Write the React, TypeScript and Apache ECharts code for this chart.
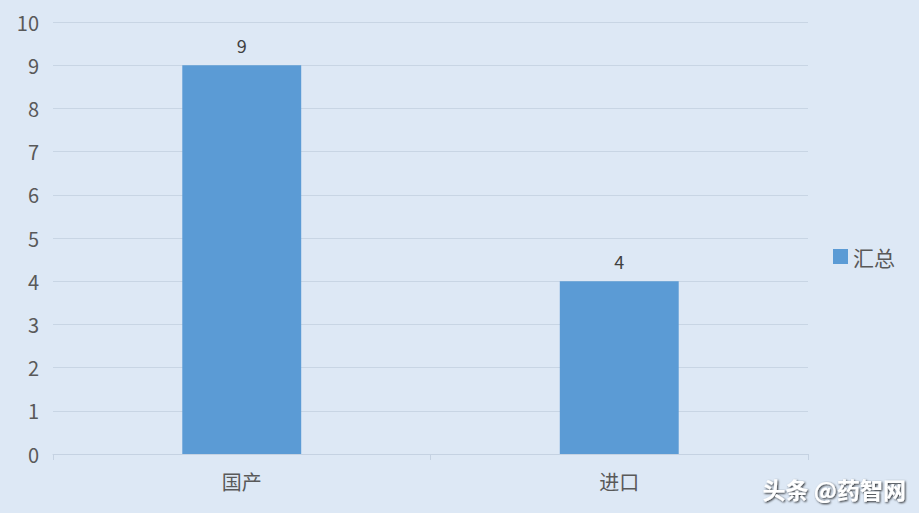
import React, { useEffect, useRef } from 'react';
import * as echarts from 'echarts';

const categories = ['国产', '进口'];
const totals = [9, 4];
const seriesName = '汇总';
const watermark = '头条 @药智网';

const FONT = '"Microsoft YaHei", "Noto Sans CJK SC", "Noto Sans", sans-serif';

export default function App() {
  const chartRef = useRef<HTMLDivElement>(null);

  useEffect(() => {
    if (!chartRef.current) return;
    const chart = echarts.init(chartRef.current, undefined, { renderer: 'svg' });

    const option: echarts.EChartsOption = {
      animation: false,
      backgroundColor: '#dde8f5',
      textStyle: { fontFamily: FONT },
      grid: { left: 53, right: 111, top: 22, bottom: 59 },
      legend: {
        orient: 'vertical',
        left: 828,
        top: 241,
        itemWidth: 15,
        itemHeight: 15,
        itemGap: 8,
        icon: 'rect',
        textStyle: { fontSize: 21, color: '#595959', fontFamily: FONT },
        data: [seriesName],
      },
      xAxis: {
        type: 'category',
        data: categories,
        axisLine: { lineStyle: { color: '#c5d2e2' } },
        axisTick: { show: true, length: 6, lineStyle: { color: '#c5d2e2' } },
        axisLabel: { fontSize: 20, color: '#595959', margin: 17, fontFamily: FONT },
      },
      yAxis: {
        type: 'value',
        min: 0,
        max: 10,
        interval: 1,
        axisLine: { show: false },
        axisTick: { show: false },
        axisLabel: { fontSize: 20, color: '#595959', margin: 14, fontFamily: FONT },
        splitLine: { lineStyle: { color: '#c8d5e4', width: 1 } },
      },
      series: [
        {
          name: seriesName,
          type: 'bar',
          data: totals,
          barWidth: '31.5%',
          itemStyle: { color: '#5b9bd5' },
          label: {
            show: true,
            position: 'top',
            distance: 11,
            fontSize: 18,
            color: '#404040',
            fontFamily: FONT,
          },
        },
      ],
      graphic: [
        {
          type: 'text',
          right: 13,
          bottom: 13,
          style: {
            text: watermark,
            fontSize: 23,
            fontWeight: 'bold',
            fontFamily: FONT,
            fill: '#ffffff',
            textShadowColor: 'rgba(0,0,0,0.85)',
            textShadowBlur: 2,
            textShadowOffsetX: 1,
            textShadowOffsetY: 1,
          },
        },
      ],
    };

    chart.setOption(option);
    return () => chart.dispose();
  }, []);

  return (
    <div
      ref={chartRef}
      style={{ position: 'absolute', left: 0, top: 0, width: 919, height: 513 }}
    />
  );
}
